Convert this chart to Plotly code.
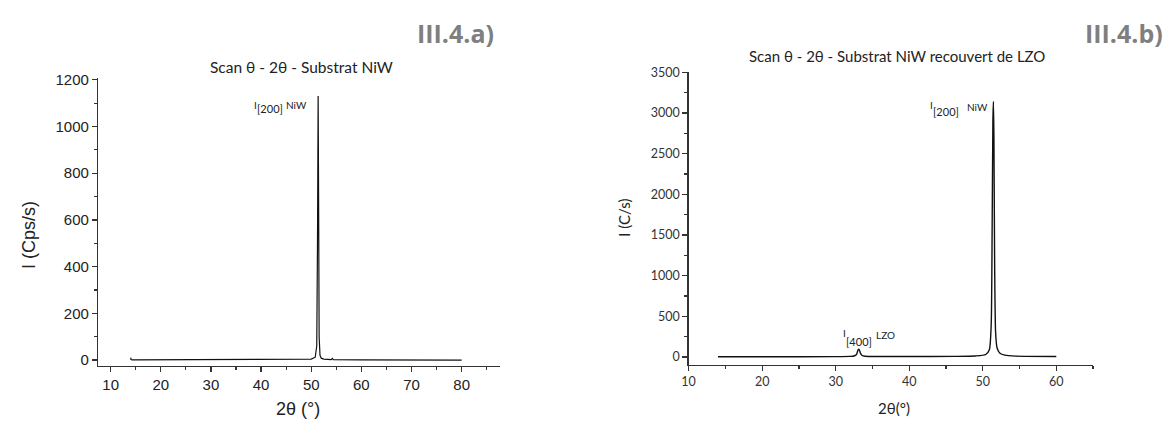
import plotly.graph_objects as go

# ---- Data ----
niw_two_theta = [14.0, 14.05, 14.3, 20, 30, 40, 48, 50, 50.8, 51.1, 51.25, 51.38, 51.48, 51.58, 51.75, 52.0, 52.5, 54.0, 54.2, 54.4, 60, 70, 80]
niw_intensity = [10, 2, 1, 1, 1, 1, 2, 4, 12, 60, 500, 1130, 650, 100, 20, 8, 4, 2, 7, 2, 1, 1, 0]

lzo_two_theta = [14, 20, 30, 32.0, 32.5, 32.8, 32.95, 33.05, 33.15, 33.25, 33.4, 33.6, 34.0, 35, 40, 46, 49, 50.4, 50.9, 51.15, 51.28, 51.38, 51.45, 51.52, 51.62, 51.75, 51.95, 52.3, 53.0, 54.5, 60]
lzo_intensity = [3, 3, 4, 7, 12, 28, 60, 88, 96, 80, 40, 18, 9, 6, 5, 7, 12, 30, 90, 400, 1600, 2900, 3140, 2700, 1100, 300, 110, 50, 22, 10, 5]

left_yticks = [0, 200, 400, 600, 800, 1000, 1200]
left_xticks = [10, 20, 30, 40, 50, 60, 70, 80]
right_yticks = [0, 500, 1000, 1500, 2000, 2500, 3000, 3500]
right_xticks = [10, 20, 30, 40, 50, 60]

W, H = 1168, 421
def px(x):
    return x / W
def py(y):
    return 1 - y / H

CAL = "Lato, Carlito, Calibri, sans-serif"
HDR = "Open Sans, Lato, sans-serif"
ARI = "Liberation Sans, Arial, sans-serif"

fig = go.Figure()
fig.add_trace(go.Scatter(x=niw_two_theta, y=niw_intensity, mode="lines",
                         line=dict(color="#111111", width=1.2), xaxis="x", yaxis="y",
                         showlegend=False, hoverinfo="skip"))
fig.add_trace(go.Scatter(x=lzo_two_theta, y=lzo_intensity, mode="lines",
                         line=dict(color="#111111", width=1.4, shape="spline", smoothing=0.6),
                         xaxis="x2", yaxis="y2", showlegend=False, hoverinfo="skip"))

axis_common = dict(showgrid=False, zeroline=False, showline=True, linecolor="#333333",
                   linewidth=1.3, ticks="outside", tickcolor="#333333", tickwidth=1.2,
                   mirror=False, fixedrange=True)

fig.update_layout(
    width=W, height=H, margin=dict(l=0, r=0, t=0, b=0),
    paper_bgcolor="white", plot_bgcolor="white",
    xaxis=dict(domain=[px(91.7), px(495.7)], range=[7.5, 87.6], anchor="y",
               tickvals=left_xticks, ticklen=5,
               minor=dict(tickvals=[15, 25, 35, 45, 55, 65, 75, 85], ticklen=3, ticks="outside", tickcolor="#333333"),
               tickfont=dict(family=ARI, size=15, color="#222222"), **axis_common),
    yaxis=dict(domain=[py(366.7), py(72.7)], range=[-25, 1207], anchor="x",
               tickvals=left_yticks, ticklen=5,
               minor=dict(tickvals=[100, 300, 500, 700, 900, 1100], ticklen=3, ticks="outside", tickcolor="#333333"),
               tickfont=dict(family=ARI, size=15, color="#222222"), **axis_common),
    xaxis2=dict(domain=[px(685.7), px(1092.6)], range=[10, 65], anchor="y2",
                tickvals=right_xticks, ticklen=5,
                minor=dict(tickvals=[15, 25, 35, 45, 55, 65], ticklen=3, ticks="outside", tickcolor="#333333"),
                tickfont=dict(family=CAL, size=12.5, color="#333333"), **axis_common),
    yaxis2=dict(domain=[py(365.5), py(66)], range=[-95, 3508], anchor="x2",
                tickvals=right_yticks, ticklen=5,
                minor=dict(tickvals=[250, 750, 1250, 1750, 2250, 2750, 3250], ticklen=3, ticks="outside", tickcolor="#333333"),
                tickfont=dict(family=CAL, size=12.5, color="#333333"), **axis_common),
)

ann = []
def text(x, y, t, size, family, color="#222222", xanchor="center", yanchor="middle", angle=0):
    ann.append(dict(x=px(x), y=py(y), xref="paper", yref="paper", text=t, showarrow=False,
                    font=dict(size=size, family=family, color=color), xanchor=xanchor,
                    yanchor=yanchor, textangle=angle, borderpad=0))

def peak_label(x0, yI, ysub, ysup, sub, sup, xsup):
    text(x0, yI, "I", 10, CAL, xanchor="left")
    text(x0 + 3, ysub, sub, 11, CAL, xanchor="left")
    text(xsup, ysup, sup, 10, CAL, xanchor="left")

# headers
text(491, 27, "<b>III.4.a)</b>", 25, HDR, color="#7f7f7f", xanchor="right")
text(1164, 27, "<b>III.4.b)</b>", 25, HDR, color="#7f7f7f", xanchor="right")
# titles
text(296, 61, "Scan θ - 2θ - Substrat NiW", 15.5, CAL)
text(895, 50, "Scan θ - 2θ - Substrat NiW recouvert de LZO", 15, CAL)
# axis titles
text(22, 233, "I (Cps/s)", 18, ARI, angle=-90)
text(293, 411, "2θ (°)", 18, ARI)
text(621, 215, "I (C/s)", 15, CAL, angle=-90)
text(892, 410, "2θ(°)", 15, CAL)
# peak labels
peak_label(247, 100, 104, 100, "[200]", "NiW", 280)
peak_label(928, 100, 107, 102.5, "[200]", "NiW", 965)
peak_label(840, 333, 341.5, 335.5, "[400]", "LZO", 873)

fig.update_layout(annotations=ann)
fig.write_html("out.html", config={"displayModeBar": False, "staticPlot": True},
               post_script="document.body.style.margin='0';document.body.style.overflow='hidden';")
